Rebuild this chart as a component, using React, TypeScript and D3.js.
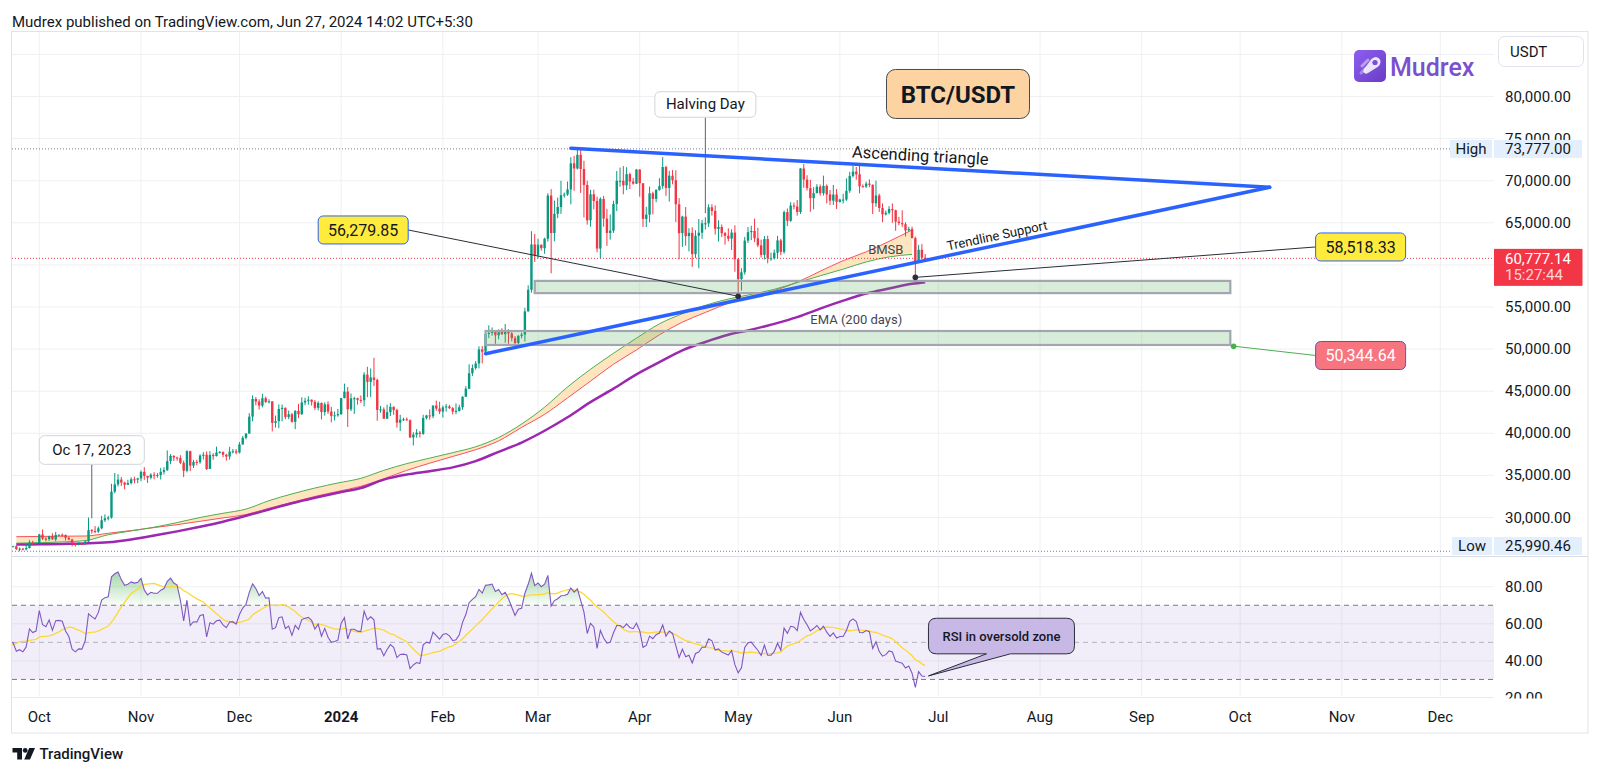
import React from 'react';
import * as d3 from 'd3';

// ---------------- DATA ----------------
// Warm-up closes (Aug 2023) used only for RSI seeding (off-screen)
const AUG_2023_CLOSES = [29700,29180,29180,29080,29050,29040,29180,29770,29570,29430,29400,29420,29280,29410,29170,28700,26620,26050,26090,26190,26120,26050,26430,26160,26060,26020,26090,26100,27720,27300,25940];

// Daily candles [high, low, close]; open = previous close
const SEP_2023 = [[26130,25330,25800],[25980,25720,25870],[26120,25800,25970],[26090,25600,25820],[25860,25400,25780],[26000,25400,25750],[26440,25600,26240],[26420,25650,25900],[25940,25800,25890],[26000,25550,25830],[25890,24900,25160],[26540,25130,25840],[26400,25770,26220],[26810,26130,26530],[26890,26220,26600],[26670,26470,26570],[26620,26400,26530],[27410,26380,26760],[27490,26670,27210],[27380,26800,27130],[27160,26350,26570],[26740,26480,26580],[26640,26500,26580],[26720,26130,26250],[26430,25990.46,26300],[26390,26100,26220],[26820,26090,26370],[27310,26340,27030],[27230,26660,26910],[27090,26880,26970]];
const OCT_2023 = [[28060,26950,27980],[28580,27330,27500],[27670,27160,27430],[27830,27220,27780],[28120,27350,27410],[28290,27170,27930],[28000,27860,27950],[28100,27700,27920],[27990,27270,27590],[27730,27300,27390],[27480,26560,26870],[26940,26560,26750],[27100,26690,26860],[26960,26800,26850],[27290,26810,27150],[30000,27110,28500],[28620,28080,28400],[28980,28130,28320],[28930,28170,28720],[30200,28600,29670],[30370,29470,29910],[30200,29660,29990],[34000,29870,33070],[35280,32880,33930],[35140,33690,34500],[34820,33750,34150],[34240,33350,33890],[34480,33860,34090],[34770,33930,34540],[34850,34050,34490],[34720,34070,34640]];
const NOV_2023 = [[35580,34320,35420],[35980,34480,34940],[34950,34100,34730],[35250,34530,35080],[35380,34530,35040],[35280,34730,35040],[35890,34520,35420],[35980,35110,35630],[37970,35530,36700],[37530,36330,37310],[37400,36710,37130],[37220,36750,37060],[37400,36340,36490],[36760,34800,35550],[37980,35360,37880],[37930,35500,36160],[36850,35880,36600],[36850,36190,36570],[37500,36380,37360],[37760,36880,37450],[37850,35640,35760],[37880,35760,37420],[37650,36850,37290],[38420,37250,37720],[37900,37600,37790],[37840,37150,37450],[37560,36750,37240],[38400,36880,37830],[38150,37600,37860],[38140,37500,37710]];
const DEC_2023 = [[38960,37600,38680],[39690,38650,39460],[40000,39280,39970],[42400,39960,41980],[44490,41420,44080],[44300,43330,43770],[44050,42820,43290],[44700,43080,44170],[44360,43590,43720],[44040,43560,43790],[43800,40220,41240],[42100,40680,41450],[43430,40610,42890],[43420,41420,43020],[43080,41670,41940],[42700,41680,42260],[42420,41250,41370],[42750,40500,42660],[43490,41790,42270],[44280,42180,43660],[44230,43330,43860],[44400,43400,43990],[44020,43290,43740],[43950,42760,43020],[43800,42720,43610],[43650,41650,42520],[43680,42100,43440],[43800,42300,42580],[43130,41300,42070],[42600,41520,42140],[42900,41970,42280]];
const JAN_2024 = [[44200,42180,44180],[45900,44150,44950],[45500,40750,42850],[44730,42630,44150],[44340,42300,44160],[44230,43400,43970],[44500,43600,43930],[47250,43200,46970],[47900,44300,46110],[47700,44300,46630],[48970,45600,46340],[46500,41500,42780],[43250,42440,42840],[43080,41720,41730],[43400,41720,42510],[43580,42050,43140],[43200,42200,42760],[42930,40680,41260],[42200,40280,41620],[41860,41450,41660],[41880,41500,41560],[41650,39430,39510],[40130,38550,39850],[40500,39480,40080],[40280,39500,39930],[42200,39820,41810],[42200,41640,42120],[42840,41620,42030],[43300,41800,43300],[43880,42680,42940],[43750,42280,42580]];
const FEB_2024 = [[43290,41880,43080],[43490,42580,43190],[43380,42880,42990],[43120,42250,42580],[43540,42260,42660],[43400,42580,43090],[44400,42790,44340],[45600,44330,45290],[48200,45240,47130],[48170,46800,47750],[48580,47560,48290],[50330,47710,49960],[50370,48300,49700],[52040,49300,51790],[52820,51300,51910],[52570,51580,52140],[52200,50620,51640],[52350,51160,52120],[52480,51680,51780],[52980,50760,52260],[52370,50630,51850],[52060,50920,51300],[51550,50520,50730],[51680,50580,51570],[51960,51280,51730],[54900,50900,54480],[57580,54450,57040],[64000,56700,62430],[63680,60360,61130]];
const MAR_2024 = [[63110,60780,62390],[62430,61700,61990],[63230,61320,63110],[68500,62760,68240],[69000,59000,63790],[67640,62800,66070],[67990,65550,66880],[69990,66060,68280],[68590,67990,68360],[69900,68200,68960],[72800,67190,72060],[72950,68800,71450],[73650,71330,73070],[73777,68550,71390],[72360,65630,69500],[70000,64780,65300],[68900,64550,68390],[68930,66600,67590],[68100,61500,61940],[68030,60780,67840],[68200,64530,65500],[66650,62260,63800],[65980,63000,64060],[67620,63800,67230],[71150,66390,69990],[71560,69280,69990],[71730,68380,69450],[71600,68900,70780],[70950,69000,69900],[70330,69520,69650],[71370,69600,71330]];
const APR_2024 = [[71340,68100,69700],[69700,64500,65460],[66900,64490,65970],[69300,65060,68500],[68700,66000,67840],[69000,67450,68900],[70300,68800,69360],[72800,69040,71620],[71760,68200,69140],[71170,67520,70590],[71260,69570,70060],[71250,65090,67200],[67930,60660,63770],[65840,62130,65740],[66870,62280,63420],[64360,61610,63800],[64470,59770,61280],[64110,60830,63470],[65450,59600,63820],[65350,63090,64940],[65650,64200,64940],[67200,64500,66840],[67200,65860,66410],[67070,63600,64280],[65300,62790,64500],[64800,63320,63770],[63900,62400,63460],[64350,62800,63120],[64230,61770,63840],[64700,59190,60670]];
const MAY_2024 = [[60790,56280,58320],[59600,56940,59120],[63320,58850,62880],[64500,62600,63890],[64650,62940,64030],[65500,62700,63160],[64400,62100,62330],[63000,60880,61190],[63430,60650,63070],[63470,60190,60790],[61450,60490,60790],[61820,60630,61450],[63450,60750,62910],[63100,61150,61550],[66450,61330,66270],[66700,64600,65230],[67450,65120,67050],[67400,66600,66940],[67700,65850,66280],[71500,66060,71450],[71980,69160,70140],[70650,68830,69120],[70100,66300,67930],[69230,66600,68520],[69590,68500,69290],[69550,68230,68510],[70600,68230,69390],[69560,67300,68370],[68900,67120,67630],[69500,67120,68350],[69000,66630,67490]];
const JUN_2024 = [[67860,67400,67760],[68450,67300,67760],[70280,67610,68800],[71060,68560,70570],[71760,70380,71080],[71630,70120,70760],[71980,68500,69340],[69560,69200,69310],[69880,69140,69650],[70150,69230,69510],[69560,66050,67320],[70000,66900,68240],[68450,66300,66760],[67300,65080,66010],[66450,65870,66190],[66980,66000,66640],[67300,65000,66490],[66550,64060,65140],[65700,64700,64960],[66480,64500,64830],[65070,63380,64100],[64530,63940,64260],[64540,63170,63180],[63360,58518.33,60280],[62370,60250,61800],[62480,60700,60860],[61300,60500,60777.14]];
const CANDLE_START = '2023-09-01';

// Indicator lines (weekly samples)
const IND_DATES = ['2023-09-24','2023-10-01','2023-10-08','2023-10-15','2023-10-22','2023-10-29','2023-11-05','2023-11-12','2023-11-19','2023-11-26','2023-12-03','2023-12-10','2023-12-17','2023-12-24','2023-12-31','2024-01-07','2024-01-14','2024-01-21','2024-01-28','2024-02-04','2024-02-11','2024-02-18','2024-02-25','2024-03-03','2024-03-10','2024-03-17','2024-03-24','2024-03-31','2024-04-07','2024-04-14','2024-04-21','2024-04-28','2024-05-05','2024-05-12','2024-05-19','2024-05-26','2024-06-02','2024-06-09','2024-06-16','2024-06-23','2024-06-27'];
const EMA21W = [26950,27000,27100,27250,27950,28400,28850,29400,30000,30500,31000,32000,32800,33500,34100,34650,35600,36400,37050,37700,38400,39500,41100,43100,45500,47600,49500,51300,53000,54200,55200,55950,56500,57100,57900,58700,59500,60350,60950,61250,null];
const SMA20W = [27720,27750,27780,27800,28130,28450,28800,29150,29550,29950,30350,31100,31800,32500,33100,33700,34600,35600,36450,37250,38050,39100,40700,42250,44200,46200,48200,49900,51700,53200,54350,55450,56300,56950,57950,59250,60500,61550,62800,64150,null];
const EMA200 = [26800,26820,26860,26920,27060,27400,27850,28350,28900,29500,30200,30950,31700,32350,32950,33500,34500,35100,35500,35950,36700,37800,38900,40300,41900,43700,45300,47000,48450,49850,50850,51700,52300,53000,53800,54800,55750,56600,57200,57750,57950];

// Axis ticks
const PRICE_GRID = [30000,35000,40000,45000,50000,55000,60000,65000,70000,75000,80000,85000];
const PRICE_LABELS = [30000,35000,40000,45000,50000,55000,60000,65000,70000,75000,80000];
const RSI_GRID = [80,60,40];
const RSI_LABELS = [80,60,40,20];
const MONTH_TICKS = ['2023-10-01','2023-11-01','2023-12-01','2024-01-01','2024-02-01','2024-03-01','2024-04-01','2024-05-01','2024-06-01','2024-07-01','2024-08-01','2024-09-01','2024-10-01','2024-11-01','2024-12-01'];
const MONTH_LABELS = ['Oct','Nov','Dec','2024','Feb','Mar','Apr','May','Jun','Jul','Aug','Sep','Oct','Nov','Dec'];

// Stats / annotations
const HIGH_PRICE = 73777.0;
const LOW_PRICE = 25990.46;
const LAST_PRICE = 60777.14;
const COUNTDOWN = '15:27:44';
const TRI_UPPER: [string, number][] = [['2024-03-11', 73850], ['2024-10-10', 69220]];
const TRI_LOWER: [string, number][] = [['2024-02-14', 49450], ['2024-10-10', 69220]];
const ZONES = [
  { from: '2024-02-29', to: '2024-09-28', top: 58100, bottom: 56650 },
  { from: '2024-02-14', to: '2024-09-28', top: 52150, bottom: 50490 },
];
const PRICE_NOTES = [
  { text: '56,279.85', point: ['2024-05-01', 56279.85], box: ['2023-12-25', 64150], fill: '#ffeb3b', color: '#131722', line: '#2a2e39', dot: '#2a2e39' },
  { text: '58,518.33', point: ['2024-06-24', 58518.33], box: ['2024-10-24', 62130], fill: '#ffeb3b', color: '#131722', line: '#2a2e39', dot: '#2a2e39' },
  { text: '50,344.64', point: ['2024-09-29', 50344.64], box: ['2024-10-24', 49240], fill: '#f7757f', color: '#ffffff', line: '#4caf50', dot: '#4caf50' },
];
const CALLOUTS = [
  { text: 'Halving Day', date: '2024-04-21', price: 66150, boxPrice: 79050, w: 101, h: 25.5 },
  { text: 'Oc 17, 2023', date: '2023-10-17', price: 29900, boxPrice: 38017, w: 105, h: 28.6 },
];
const LINE_LABELS = [
  { text: 'BMSB', date: '2024-06-15', price: 61850 },
  { text: 'EMA (200 days)', date: '2024-06-06', price: 53530 },
];
const RSI_NOTE = { text: 'RSI in oversold zone', date: '2024-06-28', value: 31.9, boxValue: 53.4 };
const TITLE = 'BTC/USDT';
const HEADER = 'Mudrex published on TradingView.com, Jun 27, 2024 14:02 UTC+5:30';

// ---------------- HELPERS ----------------
const parse = (s: string) => new Date(s + 'T00:00:00Z');
const DAY = 86400000;
const FONT = "Roboto, 'Noto Sans', sans-serif";
const UP = '#089981';
const DOWN = '#f23645';

// layout
const L = 12, R = 1494, TOP = 32, MAIN_B = 557, RSI_B = 698, AX_B = 733, FR = 1588;

function computeRSI(vals: number[], len = 14): (number | null)[] {
  const out: (number | null)[] = vals.map(() => null);
  let g = 0, l = 0;
  for (let i = 1; i <= len; i++) {
    const d = vals[i] - vals[i - 1];
    if (d > 0) g += d; else l -= d;
  }
  g /= len; l /= len;
  out[len] = l === 0 ? 100 : 100 - 100 / (1 + g / l);
  for (let i = len + 1; i < vals.length; i++) {
    const d = vals[i] - vals[i - 1];
    g = (g * (len - 1) + Math.max(d, 0)) / len;
    l = (l * (len - 1) + Math.max(-d, 0)) / len;
    out[i] = l === 0 ? 100 : 100 - 100 / (1 + g / l);
  }
  return out;
}

export default function App() {
  const x = d3.scaleUtc().domain([parse('2023-10-01'), parse('2024-12-01')]).range([39.3, 1440.3]);
  const y = d3.scaleLinear().domain([30000, 80000]).range([517.5, 96.5]);
  const ry = d3.scaleLinear().domain([20, 80]).range([698, 586.7]);
  const fmt = d3.format(',.2f');

  const rows = [SEP_2023, OCT_2023, NOV_2023, DEC_2023, JAN_2024, FEB_2024, MAR_2024, APR_2024, MAY_2024, JUN_2024].flat();
  const start = parse(CANDLE_START).getTime();
  let prev = AUG_2023_CLOSES[AUG_2023_CLOSES.length - 1];
  const candles = rows.map((r, i) => {
    const o = prev; prev = r[2];
    return { date: new Date(start + i * DAY), o, h: r[0], l: r[1], c: r[2] };
  });
  const allCloses = [...AUG_2023_CLOSES, ...rows.map(r => r[2])];
  const rsiAll = computeRSI(allCloses, 14);
  const off = AUG_2023_CLOSES.length;
  const rsiPts = candles.map((c, i) => ({ date: c.date, v: rsiAll[i + off] }));
  const maPts = rsiPts.map((p, i) => {
    const win = rsiAll.slice(i + off - 13, i + off + 1);
    const ok = win.length === 14 && win.every(v => v != null);
    return { date: p.date, v: ok ? d3.mean(win as number[])! : null };
  });

  const ind = IND_DATES.map((d, i) => ({ date: parse(d), g: EMA21W[i], r: SMA20W[i], p: EMA200[i] }));
  const band = d3.area<any>().defined(d => d.g != null).x(d => x(d.date)).y0(d => y(d.g)).y1(d => y(d.r)).curve(d3.curveMonotoneX);
  const gLine = d3.line<any>().defined(d => d.g != null).x(d => x(d.date)).y(d => y(d.g)).curve(d3.curveMonotoneX);
  const rLine = d3.line<any>().defined(d => d.r != null).x(d => x(d.date)).y(d => y(d.r)).curve(d3.curveMonotoneX);
  const pLine = d3.line<any>().x(d => x(d.date)).y(d => y(d.p)).curve(d3.curveMonotoneX);

  const rsiLine = d3.line<any>().defined(d => d.v != null).x(d => x(d.date)).y(d => ry(d.v));
  const obArea = d3.area<any>().defined(d => d.v != null).x(d => x(d.date)).y0(ry(70)).y1(d => ry(Math.max(d.v, 70)));

  const P = (pt: [string, number]) => [x(parse(pt[0])), y(pt[1])] as [number, number];
  const up1 = P(TRI_UPPER[0]), up2 = P(TRI_UPPER[1]);
  const lo1 = P(TRI_LOWER[0]), lo2 = P(TRI_LOWER[1]);

  // text along lines
  const along = (a: [number, number], b: [number, number], cx: number, offset: number) => {
    const k = (b[1] - a[1]) / (b[0] - a[0]);
    const yy = a[1] + (cx - a[0]) * k;
    const ang = Math.atan(k) * 180 / Math.PI;
    return { cx, cy: yy + offset, ang };
  };
  const asc = along(up1, up2, 920, -6.5);
  const trs = along(lo1, lo2, 998, -5);

  const monthX = MONTH_TICKS.map(d => x(parse(d)));

  // last price label box hides overlapping axis labels (as TradingView does)
  const lastTop = y(LAST_PRICE) - 9.5, lastBot = lastTop + 37;
  const visiblePriceLabels = PRICE_LABELS.filter(p => y(p) + 7 < lastTop || y(p) - 7 > lastBot);

  // RSI callout
  const rn = { tipX: x(parse(RSI_NOTE.date)), tipY: ry(RSI_NOTE.value) };
  const bx0 = rn.tipX, bx1 = bx0 + 146, bcy = ry(RSI_NOTE.boxValue), by0 = bcy - 17.8, by1 = bcy + 17.8, rr = 8;
  const rsiCalloutPath = `M${bx0 + rr},${by0} H${bx1 - rr} Q${bx1},${by0} ${bx1},${by0 + rr} V${by1 - rr} Q${bx1},${by1} ${bx1 - rr},${by1} H${bx0 + 82} L${rn.tipX},${rn.tipY} L${bx0 + 58},${by1} H${bx0 + rr} Q${bx0},${by1} ${bx0},${by1 - rr} V${by0 + rr} Q${bx0},${by0} ${bx0 + rr},${by0} Z`;

  const titleX = x(parse('2024-07-07')), titleY = y(80300);

  return (
    <svg width={1600} height={775} viewBox="0 0 1600 775" style={{ position: 'absolute', left: 0, top: 0, background: '#ffffff' }} fontFamily={FONT}>
      <defs>
        <clipPath id="mainClip"><rect x={L} y={TOP} width={R - L} height={MAIN_B - TOP} /></clipPath>
        <clipPath id="rsiClip"><rect x={L} y={MAIN_B} width={R - L} height={RSI_B - MAIN_B} /></clipPath>
        <clipPath id="rsiAxisClip"><rect x={R} y={MAIN_B} width={FR - R} height={RSI_B - MAIN_B + 0.5} /></clipPath>
        <clipPath id="priceAxisClip"><rect x={R} y={TOP} width={FR - R} height={MAIN_B - TOP} /></clipPath>
        <linearGradient id="obGrad" gradientUnits="userSpaceOnUse" x1="0" y1={ry(90)} x2="0" y2={ry(70)}>
          <stop offset="0" stopColor="#4caf50" stopOpacity={0.55} />
          <stop offset="1" stopColor="#4caf50" stopOpacity={0.03} />
        </linearGradient>
        <linearGradient id="mudGrad" x1="0" y1="0" x2="1" y2="1">
          <stop offset="0" stopColor="#8d5ff0" />
          <stop offset="1" stopColor="#6a3cc4" />
        </linearGradient>
      </defs>

      <rect x={0} y={0} width={1600} height={775} fill="#ffffff" />

      {/* header */}
      <text x={12} y={26.5} fontSize={15} fill="#131722">{HEADER}</text>

      {/* frame */}
      <rect x={11.5} y={31.5} width={FR - 11.5} height={AX_B - 31.5} fill="none" stroke="#e0e3eb" strokeWidth={1} />
      <line x1={L} x2={FR} y1={MAIN_B - 0.5} y2={MAIN_B - 0.5} stroke="#d9dce3" strokeWidth={1} />
      <line x1={L} x2={R} y1={RSI_B - 0.5} y2={RSI_B - 0.5} stroke="#e8eaef" strokeWidth={1} />

      {/* grid */}
      {monthX.filter(v => v < R).map((v, i) => (
        <line key={'vg' + i} x1={v} x2={v} y1={TOP} y2={RSI_B} stroke="#eef0f3" strokeWidth={1} />
      ))}
      {PRICE_GRID.map(p => (
        <line key={'hg' + p} x1={L} x2={R} y1={y(p)} y2={y(p)} stroke="#eef0f3" strokeWidth={1} />
      ))}
      {RSI_GRID.map(v => (
        <line key={'rg' + v} x1={L} x2={R} y1={ry(v)} y2={ry(v)} stroke="#eef0f3" strokeWidth={1} />
      ))}

      {/* main pane */}
      <g clipPath="url(#mainClip)">
        <path d={band(ind) || ''} fill="#ffcc80" fillOpacity={0.5} />
        <path d={rLine(ind) || ''} fill="none" stroke="#f7525f" strokeWidth={1} />
        <path d={gLine(ind) || ''} fill="none" stroke="#4caf50" strokeWidth={1} />
        <path d={pLine(ind) || ''} fill="none" stroke="#9c27b0" strokeWidth={2.5} />

        <line x1={L} x2={1450} y1={y(HIGH_PRICE)} y2={y(HIGH_PRICE)} stroke="#787b86" strokeWidth={1} strokeDasharray="1 2" />
        <line x1={L} x2={1450} y1={y(LOW_PRICE)} y2={y(LOW_PRICE)} stroke="#787b86" strokeWidth={1} strokeDasharray="1 2" />
        <line x1={L} x2={R} y1={y(LAST_PRICE)} y2={y(LAST_PRICE)} stroke="#f23645" strokeWidth={1} strokeDasharray="1 2" />

        {candles.map((c, i) => {
          const cx = x(c.date);
          const col = c.c >= c.o ? UP : DOWN;
          const top = y(Math.max(c.o, c.c));
          const bot = y(Math.min(c.o, c.c));
          return (
            <g key={'c' + i}>
              <line x1={cx} x2={cx} y1={y(c.h)} y2={y(c.l)} stroke={col} strokeWidth={1} />
              <rect x={cx - 1.2} y={top} width={2.4} height={Math.max(1, bot - top)} fill={col} />
            </g>
          );
        })}

        {ZONES.map((z, i) => {
          const x0 = x(parse(z.from)), x1 = x(parse(z.to));
          return <rect key={'z' + i} x={x0} y={y(z.top)} width={x1 - x0} height={y(z.bottom) - y(z.top)} fill="#4caf50" fillOpacity={0.22} stroke="#a3a6af" strokeWidth={2.2} />;
        })}

        <line x1={up1[0]} y1={up1[1]} x2={up2[0]} y2={up2[1]} stroke="#2962ff" strokeWidth={3.5} strokeLinecap="round" />
        <line x1={lo1[0]} y1={lo1[1]} x2={lo2[0]} y2={lo2[1]} stroke="#2962ff" strokeWidth={3.5} strokeLinecap="round" />

        <text x={asc.cx} y={asc.cy} fontSize={16.5} fill="#131722" textAnchor="middle" transform={`rotate(${asc.ang} ${asc.cx} ${asc.cy})`}>Ascending triangle</text>
        <text x={trs.cx} y={trs.cy} fontSize={13} fill="#131722" textAnchor="middle" transform={`rotate(${trs.ang} ${trs.cx} ${trs.cy})`}>Trendline Support</text>
        {LINE_LABELS.map((t, i) => (
          <text key={'ll' + i} x={x(parse(t.date))} y={y(t.price)} fontSize={13} fill="#434651" textAnchor="middle" dominantBaseline="central">{t.text}</text>
        ))}

        {/* callouts */}
        {CALLOUTS.map((c, i) => {
          const cx = x(parse(c.date));
          const cy = y(c.boxPrice);
          return (
            <g key={'co' + i}>
              <line x1={cx} x2={cx} y1={cy + c.h / 2} y2={y(c.price)} stroke="#5d606b" strokeWidth={1} />
              <rect x={cx - c.w / 2} y={cy - c.h / 2} width={c.w} height={c.h} rx={5} fill="#ffffff" stroke="#d1d4dc" strokeWidth={1} />
              <text x={cx} y={cy} fontSize={15} fill="#131722" textAnchor="middle" dominantBaseline="central">{c.text}</text>
            </g>
          );
        })}

        {PRICE_NOTES.map((n, i) => {
          const px = x(parse(n.point[0] as string)), py = y(n.point[1] as number);
          const bx = x(parse(n.box[0] as string)), by = y(n.box[1] as number);
          const isLeft = bx < px;
          const bw = 90, bh = 28;
          const lx = isLeft ? bx + bw : bx;
          return (
            <g key={'pn' + i}>
              <line x1={px} y1={py} x2={lx} y2={by} stroke={n.line} strokeWidth={1} />
              <circle cx={px} cy={py} r={2.8} fill={n.dot} />
              <rect x={bx} y={by - bh / 2} width={bw} height={bh} rx={5} fill={n.fill} stroke="#2962ff" strokeWidth={1} />
              <text x={bx + bw / 2} y={by + 0.5} fontSize={16} fill={n.color} textAnchor="middle" dominantBaseline="central">{n.text}</text>
            </g>
          );
        })}

        <rect x={titleX - 71.5} y={titleY - 24.5} width={143} height={49} rx={9} fill="#fdd3a2" stroke="#4a4a4a" strokeWidth={1} />
        <text x={titleX} y={titleY + 1} fontSize={24} fontWeight={700} fill="#131722" textAnchor="middle" dominantBaseline="central">{TITLE}</text>
      </g>

      {/* Mudrex logo */}
      <g>
        <rect x={1354} y={50} width={32} height={32} rx={5} fill="url(#mudGrad)" />
        <path d="M1376,57 C1382,58 1382,65 1376,68 L1368,73 C1365,75 1362,72 1364,69 L1370,61 C1372,58 1374,57 1376,57 Z" fill="#ffffff" fillOpacity={0.85} />
        <circle cx={1375} cy={62.5} r={2.6} fill="#7a4bd6" />
        <path d="M1362,66 L1368,60" stroke="#ffffff" strokeOpacity={0.45} strokeWidth={3} strokeLinecap="round" />
        <path d="M1361,73 L1366,68" stroke="#ffffff" strokeOpacity={0.35} strokeWidth={3} strokeLinecap="round" />
        <text x={1390} y={76} fontSize={25} fontWeight={500} fill="#7b4fd0">Mudrex</text>
      </g>

      {/* price axis */}
      <rect x={1498.5} y={36.5} width={85} height={30} rx={6} fill="#ffffff" stroke="#e0e3eb" />
      <text x={1510} y={52} fontSize={15} fill="#131722" dominantBaseline="central">USDT</text>
      <g clipPath="url(#priceAxisClip)">
        {visiblePriceLabels.map(p => (
          <text key={'pl' + p} x={1505} y={y(p)} fontSize={15} fill="#131722" dominantBaseline="central">{fmt(p)}</text>
        ))}
      </g>
      {/* High */}
      <rect x={1450} y={y(HIGH_PRICE) - 9} width={42} height={18} fill="#e3effd" />
      <text x={1471} y={y(HIGH_PRICE)} fontSize={15} fill="#131722" textAnchor="middle" dominantBaseline="central">High</text>
      <rect x={1494} y={y(HIGH_PRICE) - 9} width={88} height={18} fill="#e3effd" />
      <text x={1505} y={y(HIGH_PRICE)} fontSize={15} fill="#131722" dominantBaseline="central">{fmt(HIGH_PRICE)}</text>
      {/* Low */}
      <rect x={1452} y={537} width={40} height={18} fill="#e3effd" />
      <text x={1472} y={546} fontSize={15} fill="#131722" textAnchor="middle" dominantBaseline="central">Low</text>
      <rect x={1494} y={537} width={88} height={18} fill="#e3effd" />
      <text x={1505} y={546} fontSize={15} fill="#131722" dominantBaseline="central">{fmt(LOW_PRICE)}</text>
      {/* last price */}
      <rect x={1494} y={lastTop} width={88.5} height={37} fill="#f23645" />
      <text x={1505} y={y(LAST_PRICE) + 0.5} fontSize={15} fill="#ffffff" dominantBaseline="central">{fmt(LAST_PRICE)}</text>
      <text x={1505} y={y(LAST_PRICE) + 16.5} fontSize={15} fill="#ffffff" fillOpacity={0.8} dominantBaseline="central">{COUNTDOWN}</text>

      {/* RSI pane */}
      <rect x={L} y={ry(70)} width={R - L} height={ry(30) - ry(70)} fill="#7e57c2" fillOpacity={0.1} />
      <line x1={L} x2={R} y1={ry(70)} y2={ry(70)} stroke="#787b86" strokeWidth={1} strokeDasharray="5 4" />
      <line x1={L} x2={R} y1={ry(50)} y2={ry(50)} stroke="#787b86" strokeOpacity={0.5} strokeWidth={1} strokeDasharray="5 4" />
      <line x1={L} x2={R} y1={ry(30)} y2={ry(30)} stroke="#787b86" strokeWidth={1} strokeDasharray="5 4" />
      <g clipPath="url(#rsiClip)">
        <path d={obArea(rsiPts) || ''} fill="url(#obGrad)" />
        <path d={rsiLine(maPts) || ''} fill="none" stroke="#fdd835" strokeWidth={1.3} />
        <path d={rsiLine(rsiPts) || ''} fill="none" stroke="#7e57c2" strokeWidth={1.1} />
        <path d={rsiCalloutPath} fill="#c8b8e6" stroke="#2a2e39" strokeWidth={1} />
        <text x={(bx0 + bx1) / 2} y={bcy} fontSize={13} fontWeight={500} fill="#131722" textAnchor="middle" dominantBaseline="central">{RSI_NOTE.text}</text>
      </g>
      <g clipPath="url(#rsiAxisClip)">
        {RSI_LABELS.map(v => (
          <text key={'rl' + v} x={1505} y={ry(v)} fontSize={15} fill="#131722" dominantBaseline="central">{d3.format('.2f')(v)}</text>
        ))}
      </g>

      {/* time axis */}
      {MONTH_LABELS.map((m, i) => (
        <text key={'ml' + i} x={monthX[i]} y={717} fontSize={15} fontWeight={m === '2024' ? 700 : 400} fill="#131722" textAnchor="middle" dominantBaseline="central">{m}</text>
      ))}

      {/* TradingView footer */}
      <g fill="#131722">
        <path d="M12.5,748 H22 V759.5 H17.2 V752.6 H12.5 Z" />
        <circle cx={25.2} cy={750.4} r={2.4} />
        <path d="M29.2,748 H35 L30,759.5 H24.2 Z" />
      </g>
      <text x={39.5} y={759} fontSize={15} fontWeight={500} fill="#131722">TradingView</text>
    </svg>
  );
}
